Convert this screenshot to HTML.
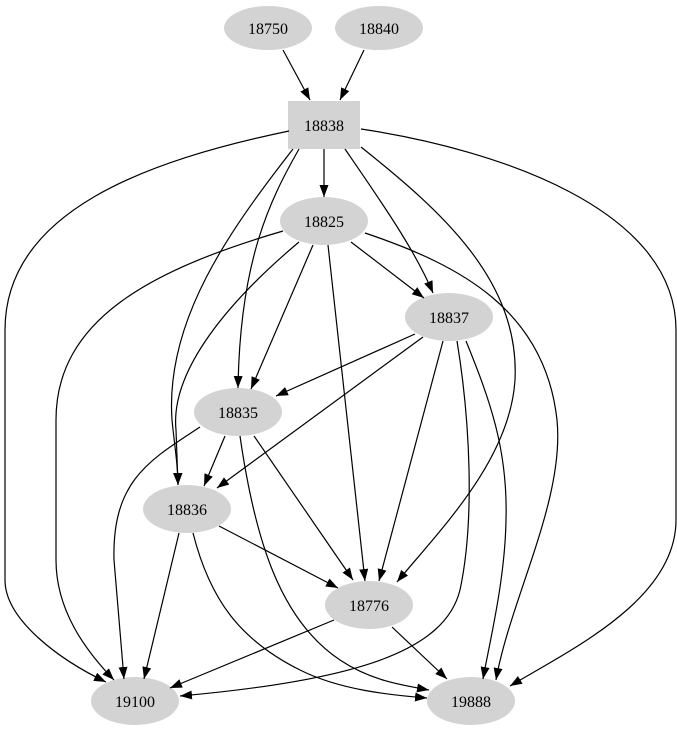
<!DOCTYPE html>
<html><head><meta charset="utf-8"><style>
html,body{margin:0;padding:0;background:#fff;}
svg{display:block;}
text{font-family:"Liberation Serif",serif;font-size:16px;fill:#000;}
</style></head><body>
<svg width="677" height="731" viewBox="0 0 677 731" xmlns="http://www.w3.org/2000/svg">
<defs>
<marker id="a" markerUnits="userSpaceOnUse" markerWidth="13" markerHeight="10" refX="12" refY="4.5" orient="auto">
<path d="M0,0 L12,4.5 L0,9 Z" fill="#000"/>
</marker>
</defs>
<g fill="#d3d3d3" stroke="none">
<ellipse cx="268" cy="28" rx="44" ry="22"/>
<ellipse cx="379" cy="28" rx="44" ry="22"/>
<rect x="288" y="101" width="72" height="48"/>
<ellipse cx="324" cy="221" rx="44" ry="24"/>
<ellipse cx="449" cy="317" rx="44" ry="24"/>
<ellipse cx="238" cy="412" rx="44" ry="24"/>
<ellipse cx="187" cy="509" rx="44" ry="24"/>
<ellipse cx="369" cy="605" rx="44" ry="24"/>
<ellipse cx="135" cy="701" rx="44" ry="24"/>
<ellipse cx="471" cy="701" rx="44" ry="24"/>
</g>
<g fill="none" stroke="#000" stroke-width="1.2" marker-end="url(#a)">
<path d="M283,50 L310,100"/>
<path d="M364,50 L340,100"/>
<path d="M324,149 L324,197"/>
<path d="M289,131 C150,160 5,210 5,330 L5,580 C5,620 60,660 106,682"/>
<path d="M361,129 C500,150 676,210 676,330 L676,520 C676,600 570,650 510,686"/>
<path d="M299,149 C270,200 240,260 238,388"/>
<path d="M293,149 C230,230 165,320 172,420 C175,450 178,465 178,485"/>
<path d="M345,149 C380,200 415,250 433,293"/>
<path d="M361,147 C440,210 520,280 515,380 C510,460 440,530 397,582"/>
<path d="M283,231 C150,270 56,320 56,420 L56,560 C56,610 85,650 114,680"/>
<path d="M299,242 C230,300 170,370 176,430 L178,485"/>
<path d="M313,245 L251,389"/>
<path d="M328,245 L365,581"/>
<path d="M351,242 L424,298"/>
<path d="M365,233 C460,265 545,310 557,420 C565,500 510,600 496,680"/>
<path d="M415,334 L276,396"/>
<path d="M423,337 L217,488"/>
<path d="M443,341 L379,581"/>
<path d="M457,341 C470,420 475,520 460,590 C445,650 360,680 180,696"/>
<path d="M466,341 C490,400 508,450 506,520 C505,580 490,640 483,679"/>
<path d="M200,427 C150,460 112,480 114,560 L124,679"/>
<path d="M225,436 L204,486"/>
<path d="M240,436 C255,540 280,620 340,660 C370,680 400,685 429,690"/>
<path d="M254,436 L353,580"/>
<path d="M219,526 L338,588"/>
<path d="M179,533 L144,679"/>
<path d="M193,533 C210,600 240,640 300,670 C340,690 390,695 427,698"/>
<path d="M334,620 L170,688"/>
<path d="M392,627 L447,679"/>
</g>
<g text-anchor="middle">
<text x="268" y="34">18750</text>
<text x="379" y="34">18840</text>
<text x="324" y="131">18838</text>
<text x="324" y="227">18825</text>
<text x="449" y="323">18837</text>
<text x="238" y="418">18835</text>
<text x="187" y="515">18836</text>
<text x="369" y="611">18776</text>
<text x="135" y="707">19100</text>
<text x="471" y="707">19888</text>
</g>
</svg>
</body></html>
